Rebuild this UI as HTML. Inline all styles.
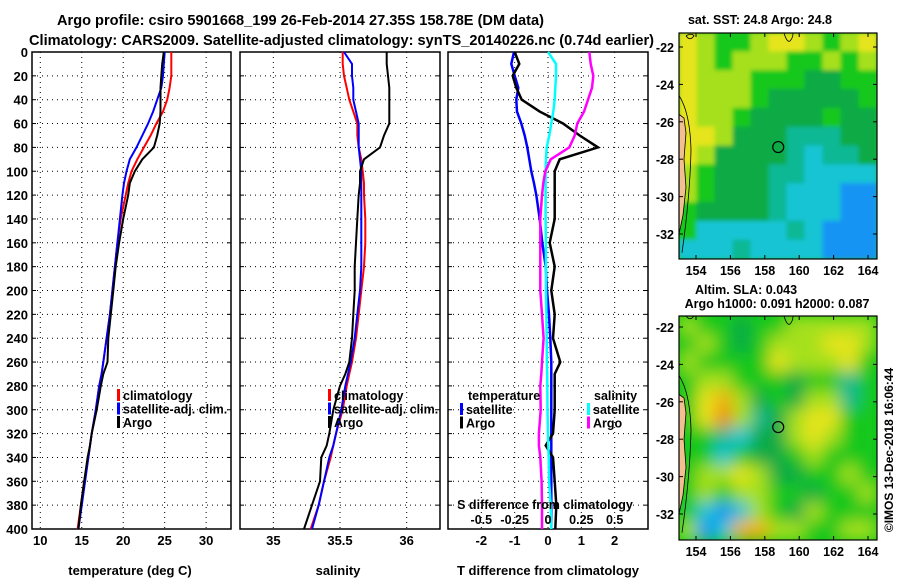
<!DOCTYPE html>
<html><head><meta charset="utf-8"><style>
html,body{margin:0;padding:0;background:#fff;}
svg text{font-family:"Liberation Sans",sans-serif;font-weight:bold;fill:#000;}
</style></head><body>
<svg id="chart" width="900" height="580" viewBox="0 0 900 580" xmlns="http://www.w3.org/2000/svg">
<defs>
<filter id="blur1" x="-10%" y="-10%" width="120%" height="120%"><feGaussianBlur stdDeviation="2"/></filter>
<filter id="blur2" x="-10%" y="-10%" width="120%" height="120%"><feGaussianBlur stdDeviation="8"/></filter>
<clipPath id="clipM1"><rect x="679" y="33" width="198" height="226"/></clipPath>
<clipPath id="clipM2"><rect x="679" y="316" width="198" height="224"/></clipPath>
</defs>
<text x="57" y="25" font-size="15" textLength="487" lengthAdjust="spacingAndGlyphs">Argo profile: csiro 5901668_199 26-Feb-2014 27.35S 158.78E (DM data)</text>
<text x="29" y="45" font-size="15" textLength="625" lengthAdjust="spacingAndGlyphs">Climatology: CARS2009. Satellite-adjusted climatology: synTS_20140226.nc (0.74d earlier)</text>
<g id="panels"></g>
<g id="maps"></g>
</svg>
<script>
// ---------- data ----------
const depths = [0,10,20,30,40,50,60,70,80,90,100,110,120,140,160,180,200,220,240,260,270,280,300,320,330,340,360,380,400];
const tempClim = [25.8,25.8,25.8,25.6,25.3,24.8,24.0,23.3,22.5,21.7,21.0,20.6,20.3,19.7,19.3,19.0,18.7,18.4,18.0,17.6,17.4,17.1,16.7,16.2,16.0,15.8,15.3,14.9,14.5];
const tempSat = [25.0,24.9,24.8,24.6,24.1,23.6,23.0,22.3,21.6,20.8,20.4,20.1,19.9,19.6,19.3,19.0,18.7,18.4,18.0,17.6,17.4,17.1,16.7,16.2,16.0,15.8,15.4,15.0,14.6];
const tempArgo = [24.9,24.7,24.6,24.5,24.5,24.5,24.4,24.1,23.7,22.3,21.4,20.8,20.6,20.0,19.5,19.1,18.8,18.5,18.2,18.1,17.6,17.3,16.8,16.2,16.0,15.7,15.3,14.9,14.6];
const salClim = [35.52,35.52,35.53,35.55,35.57,35.60,35.63,35.63,35.64,35.66,35.67,35.68,35.68,35.69,35.69,35.68,35.66,35.64,35.62,35.59,35.57,35.55,35.52,35.47,35.45,35.43,35.38,35.34,35.28];
const salSat = [35.53,35.59,35.59,35.60,35.60,35.62,35.64,35.64,35.64,35.65,35.66,35.66,35.66,35.66,35.66,35.66,35.65,35.63,35.61,35.58,35.56,35.54,35.51,35.47,35.45,35.42,35.38,35.34,35.29];
const salArgo = [35.85,35.85,35.86,35.87,35.87,35.87,35.87,35.83,35.80,35.68,35.65,35.65,35.64,35.63,35.62,35.61,35.61,35.60,35.59,35.57,35.54,35.50,35.45,35.42,35.40,35.36,35.35,35.29,35.23];
const dTempSat = [-1.02,-1.1,-1.0,-0.89,-0.95,-0.93,-0.8,-0.7,-0.62,-0.56,-0.5,-0.42,-0.35,-0.25,-0.17,-0.07,-0.03,0.03,0.07,0.1,0.1,0.1,0.1,0.1,0.1,0.1,0.1,0.1,0.1];
const dTempArgo = [-1.0,-0.86,-1.06,-0.95,-0.79,-0.25,0.45,0.95,1.5,0.35,0.2,0.2,0.2,0.2,0.05,0.2,0.1,0.2,0.15,0.37,0.2,0.2,0.2,0.15,-0.07,0.15,0.2,0.25,0.22];
const dSalSat = [0.0,0.06,0.06,0.055,0.05,0.04,0.025,0.01,-0.01,-0.015,-0.018,-0.018,-0.018,-0.018,-0.016,-0.016,-0.015,-0.012,-0.01,-0.008,-0.006,-0.005,-0.004,0.0,0.002,0.005,0.008,0.02,0.025];
const dSalArgo = [0.31,0.32,0.34,0.33,0.3,0.27,0.22,0.2,0.16,0.02,-0.02,-0.035,-0.045,-0.058,-0.058,-0.058,-0.058,-0.045,-0.033,-0.045,-0.05,-0.058,-0.055,-0.068,-0.068,-0.058,-0.048,-0.045,-0.045];
const depthTicks = [0,20,40,60,80,100,120,140,160,180,200,220,240,260,280,300,320,340,360,380,400];
const tempTicks = [10,15,20,25,30];
const salTicks = [35,35.5,36];
const dTTicks = [-2,-1,0,1,2];
const dSTicks = [-0.5,-0.25,0,0.25,0.5];
const lonTicks = [154,156,158,160,162,164];
const latTicks = [-22,-24,-26,-28,-30,-32];
const argoPos = [158.78,-27.35];
const sstGrid = ["YLGGLYYLGLY","YLGLLLGGLGL","YLLLGGGDDGG","YLLLGDDDDDG","YLLGDDDDGDD","YYLDDDTTTDD","YLDDDDTCTTD","LGDDDTTCCCC","LGDDDTCCCBB","GDDDDTCCCBB","GCCCCCTCBBB","CCCTCCCCBBB"];
const slaGrid = ["LGGDGGLLLLL","GLGDGLLLYYL","LGGGGYLLLYG","GLLGGGDGGTG","GYOLDGDLLTG","GYRLTDLYYGG","GGTCDDLYLGG","GGCGDDGLGGG","GLLYLDDGGLG","GLGLLGGDGGL","GCBCLGDLGGG","LBCOOLLGGLL"];
const palette = {Y:'#e6e41e',L:'#a6e01c',G:'#12c81a',D:'#0caa44',T:'#10b894',C:'#12c4d4',B:'#1494f4',O:'#f0b010',R:'#ec8a10'};

const NS="http://www.w3.org/2000/svg";
function el(tag,attrs,parent,txt){const e=document.createElementNS(NS,tag);for(const k in attrs)e.setAttribute(k,attrs[k]);if(txt!==undefined)e.textContent=txt;parent.appendChild(e);return e;}
const P=document.getElementById('panels');
const y0=52,y1=529;
const yD=d=>y0+(d/400)*(y1-y0);
function lin(d0,d1,r0,r1){return v=>r0+(v-d0)/(d1-d0)*(r1-r0);}

function panel(name,x0,x1,xs,ticks,fmt,showY){
  const g=el('g',{},P);
  
  
  depthTicks.forEach(d=>{if(d>0&&d<400){const l=el('line',{x1:x0,x2:x1,y1:yD(d),y2:yD(d),stroke:'#000','stroke-width':1,'stroke-dasharray':'1,4'},g);
    
    }
    const t1=el('line',{x1:x0,x2:x0+4,y1:yD(d),y2:yD(d),stroke:'#000'},g);
    const t2=el('line',{x1:x1-4,x2:x1,y1:yD(d),y2:yD(d),stroke:'#000'},g);
    if(showY){const t=el('text',{x:28,y:yD(d)+5,'font-size':13,'text-anchor':'end'},g,String(d));
      
      }
  });
  ticks.forEach(v=>{const x=xs(v);
    const l=el('line',{x1:x,x2:x,y1:y0,y2:y1,stroke:'#000','stroke-dasharray':'1,4'},g);
    
    
    if(fmt){const t=el('text',{x:x,y:y1+16,'font-size':13,'text-anchor':'middle'},g,fmt(v));
      
      }
  });
  const r=el('rect',{x:x0,y:y0,width:x1-x0,height:y1-y0,fill:'none',stroke:'#000','stroke-width':1.5},g);
  
  
  return g;
}
function series(g,name,vals,xs,color,w){
  const pts=vals.map((v,i)=>xs(v).toFixed(1)+','+yD(depths[i]).toFixed(1)).join(' ');
  const p=el('polyline',{points:pts,fill:'none',stroke:color,'stroke-width':w||2},g);
  
  
}
function legend(g,x,y,items){
  items.forEach((it,i)=>{
    const m=el('rect',{x:x,y:y+i*13.5-6,width:3,height:12,fill:it[1]},g);
    
    
    const t=el('text',{x:x+6,y:y+i*13.5+5,'font-size':12.5},g,it[0]);
    
    
  });
}
// panel 1 temperature
const xT=lin(9,33,32,231);
const g1=panel('temperature-panel',32,231,xT,tempTicks,v=>String(v),true);
series(g1,'temp-climatology-line',tempClim,xT,'#f00');
series(g1,'temp-satellite-line',tempSat,xT,'#00f');
series(g1,'temp-argo-line',tempArgo,xT,'#000');
legend(g1,117,395,[['climatology','#f00'],['satellite-adj. clim.','#00f'],['Argo','#000']]);
let t=el('text',{x:130,y:575,'font-size':13,'text-anchor':'middle'},g1,'temperature (deg C)');


// panel 2 salinity
const xS=lin(34.75,36.25,240,440);
const g2=panel('salinity-panel',240,440,xS,salTicks,v=>String(v),false);
series(g2,'sal-climatology-line',salClim,xS,'#f00');
series(g2,'sal-satellite-line',salSat,xS,'#00f');
series(g2,'sal-argo-line',salArgo,xS,'#000');
legend(g2,328,395,[['climatology','#f00'],['satellite-adj. clim.','#00f'],['Argo','#000']]);
t=el('text',{x:338,y:575,'font-size':13,'text-anchor':'middle'},g2,'salinity');


// panel 3 differences
const xDT=lin(-3,3,448,648);
const xDS=v=>xDT(v*4);
const g3=panel('difference-panel',448,648,xDT,dTTicks,v=>String(v),false);
series(g3,'dtemp-satellite-line',dTempSat,xDT,'#00f',2.5);
series(g3,'dtemp-argo-line',dTempArgo,xDT,'#000',2.5);
series(g3,'dsal-satellite-line',dSalSat,xDS,'#0ff',2.5);
series(g3,'dsal-argo-line',dSalArgo,xDS,'#f0f',2.5);
t=el('text',{x:468,y:400,'font-size':12.5},g3,'temperature');
t=el('text',{x:594,y:400,'font-size':12.5},g3,'salinity');
legend(g3,460,409,[['satellite','#00f'],['Argo','#000']]);
legend(g3,587,409,[['satellite','#0ff'],['Argo','#f0f']]);
t=el('text',{x:545,y:509,'font-size':12.5,'text-anchor':'middle'},g3,'S difference from climatology');
dSTicks.forEach(v=>{const tt=el('text',{x:xDS(v),y:524,'font-size':12.5,'text-anchor':'middle'},g3,String(v));
  
  });
t=el('text',{x:548,y:575,'font-size':13,'text-anchor':'middle'},g3,'T difference from climatology');

// ---------- maps ----------
const M=document.getElementById('maps');
function mapPanel(name,top,bottom,clip,grid,filt,lat22y){
  const g=el('g',{},M);
  
  
  const lx=lin(154,164,696,868);
  const ly=lin(-22,-32,lat22y,lat22y+187);
  const inner=el('g',{'clip-path':'url(#'+clip+')'},g);
  el('rect',{x:679,y:top,width:198,height:bottom-top,fill:'#12c81a'},inner);
  const cg=el('g',{filter:'url(#'+filt+')'},inner);
  const nr=grid.length,nc=grid[0].length;
  const cw=198/nc,chh=(bottom-top)/nr;
  grid.forEach((row,r)=>{[...row].forEach((ch,c)=>{
    el('rect',{x:679+c*cw-0.5,y:top+r*chh-0.5,width:cw+1,height:chh+1,fill:palette[ch]},cg);});});
  // land
  const land=el('path',{d:`M679 ${ly(-25.6)} L684 ${ly(-25.8)} L686 ${ly(-26.6)} L684 ${ly(-28)} L686 ${ly(-29.5)} L683 ${ly(-31)} L679 ${ly(-32)} Z`,fill:'#f2c090',stroke:'#000','stroke-width':0.8},inner);
  
  
  el('path',{d:`M679 ${ly(-24.6)} Q690 ${ly(-25.5)} 691 ${ly(-27.5)} Q690 ${ly(-30)} 682 ${ly(-33)}`,fill:'none',stroke:'#000','stroke-width':0.8},inner);
  el('path',{d:`M686 ${ly(-21.4)} q4 6 8 0 q-2 -3 -8 0`,fill:'none',stroke:'#000','stroke-width':0.8},inner);
  el('path',{d:`M784 ${top} q3 10 6 8 q3 -3 3 -8`,fill:'none',stroke:'#000','stroke-width':0.8},inner);
  const c=el('circle',{cx:lx(argoPos[0]),cy:ly(argoPos[1]),r:5.5,fill:'none',stroke:'#000','stroke-width':1.2},g);
  
  
  const r=el('rect',{x:679,y:top,width:198,height:bottom-top,fill:'none',stroke:'#000','stroke-width':1.2},g);
  
  
  lonTicks.forEach(v=>{el('line',{x1:lx(v),x2:lx(v),y1:bottom,y2:bottom-4,stroke:'#000'},g);el('line',{x1:lx(v),x2:lx(v),y1:top,y2:top+4,stroke:'#000'},g);
    const tt=el('text',{x:lx(v),y:bottom+16,'font-size':12.5,'text-anchor':'middle'},g,String(v));
    
    });
  latTicks.forEach(v=>{el('line',{x1:679,x2:683,y1:ly(v),y2:ly(v),stroke:'#000'},g);el('line',{x1:873,x2:877,y1:ly(v),y2:ly(v),stroke:'#000'},g);
    const tt=el('text',{x:674,y:ly(v)+5,'font-size':12.5,'text-anchor':'end'},g,String(v));
    
    });
}
mapPanel('sst-map',33,259,'clipM1',sstGrid,'blur1',47);
mapPanel('sla-map',316,540,'clipM2',slaGrid,'blur2',327);
t=el('text',{x:760,y:24,'font-size':12.5,'text-anchor':'middle'},M,'sat. SST: 24.8 Argo: 24.8');
t=el('text',{x:746,y:294,'font-size':12.5,'text-anchor':'middle'},M,'Altim. SLA: 0.043');
t=el('text',{x:777,y:308,'font-size':12.5,'text-anchor':'middle'},M,'Argo h1000: 0.091 h2000: 0.087');
t=el('text',{x:0,y:0,'font-size':12,'font-weight':'normal','text-anchor':'middle',transform:'translate(893,450) rotate(-90)'},M,'©IMOS 13-Dec-2018 16:06:44');
</script>
</body></html>
